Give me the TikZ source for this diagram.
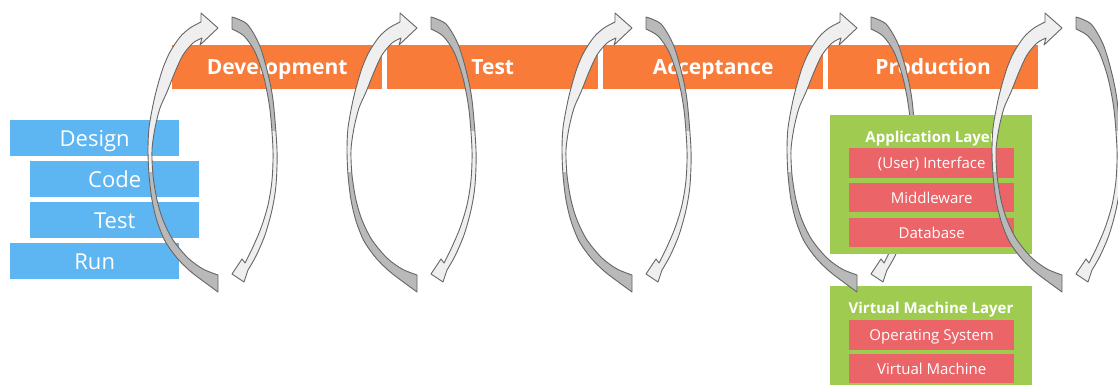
\documentclass[tikz,border=0pt]{standalone}
\usepackage{fontspec}
\setmainfont{Open Sans}
\definecolor{orng}{HTML}{F87B39}
\definecolor{blu}{HTML}{5DB5F2}
\definecolor{grn}{HTML}{9FCC50}
\definecolor{rd}{HTML}{EB6467}
\definecolor{rlight}{HTML}{EFEFEF}
\definecolor{rdark}{HTML}{B9B9B9}
\definecolor{redge}{HTML}{666666}
\newcommand\ribbonLeft[1]{%
\begin{scope}[xshift=#1]
\path[save path=\rbL] (201,22) -- (201,13) -- (218,28) -- (200,45) -- (202,38)
 -- plot[smooth] coordinates {(202,38) (193,43) (183,55) (175,72) (167,92) (160,108) (155,128) (152,150) (153,175) (157,200) (163,220) (173,240) (188,258) (203,269) (218,275)}
 -- (218,292)
 -- plot[smooth] coordinates {(218,292) (203,281) (190,271) (177,258) (165,241) (157,221) (152,200) (149,175) (148,150) (149,128) (153,105) (157,88) (163,68) (170,52) (180,37) (190,28) (201,22)}
 -- cycle;
\path[use path=\rbL, fill=rlight];
\begin{scope}
\clip (0,172) rectangle (400,300);
\path[use path=\rbL, fill=rdark];
\end{scope}
\path[use path=\rbL, draw=redge, line width=0.9pt, line join=round];
\end{scope}}
\newcommand\ribbonRight[1]{%
\begin{scope}[xshift=#1]
\path[save path=\rbR] (232,17)
 -- plot[smooth] coordinates {(232,17) (247,24) (259,44) (267,70) (273,100) (277,150) (276,185) (272,210) (265,235) (256,256) (248,270)}
 -- (244,282) -- (232,274) -- (242,259) -- (245,263)
 -- plot[smooth] coordinates {(245,263) (252,249) (261,228) (268,205) (272,180) (273,150) (270,110) (264,78) (255,52) (244,36) (232,29)}
 -- cycle;
\path[use path=\rbR, fill=rlight];
\begin{scope}
\clip (0,0) rectangle (400,130);
\path[use path=\rbR, fill=rdark];
\end{scope}
\path[use path=\rbR, draw=redge, line width=0.9pt, line join=round];
\end{scope}}
\begin{document}
\begin{tikzpicture}[x=1pt,y=-1pt,
  phase/.style={fill=orng, text=white, font=\bfseries\fontsize{21}{24}\selectfont, inner sep=0pt, text height=15pt, text depth=0pt, minimum height=44pt, anchor=north west},
  cycbox/.style={fill=blu, text=white, font=\fontsize{22}{25}\selectfont, inner sep=0pt, text height=15.7pt, text depth=0pt, minimum width=169pt, minimum height=36pt, anchor=north west},
  layer/.style={fill=grn, inner sep=0pt, minimum width=202pt, anchor=north west},
  layertitle/.style={text=white, font=\bfseries\fontsize{15}{18}\selectfont, inner sep=0pt, text height=10.7pt, text depth=0pt},
  comp/.style={fill=rd, text=white, font=\fontsize{15}{18}\selectfont, inner sep=0pt, text height=10.7pt, text depth=0pt, minimum width=165pt, anchor=north west}]
\useasboundingbox[fill=white] (0,0) rectangle (1118,385);
% phases
\node[phase, minimum width=210pt] (dev) at (172,45) {Development};
\node[phase, minimum width=211pt] (tst) at (387,45) {Test};
\node[phase, minimum width=220pt] (acc) at (603,45) {Acceptance};
\node[phase, minimum width=210pt] (prd) at (828,45) {Production};
% cycle boxes
\node[cycbox] (design) at (10,120) {Design};
\node[cycbox] (code) at (30,161) {Code};
\node[cycbox] (test) at (30,202) {Test};
\node[cycbox] (run) at (10,243) {Run};
% ribbons
\ribbonLeft{0pt}\ribbonRight{0pt}
\ribbonLeft{199pt}\ribbonRight{199pt}
\ribbonLeft{414pt}\ribbonRight{414pt}
\ribbonRight{639pt}
% layers
\node[layer, minimum height=139pt] (app) at (830,115) {};
\node[layertitle] (apptitle) at (931,137) {Application Layer};
\node[comp, minimum height=30pt] (ui) at (849,148) {(User) Interface};
\node[comp, minimum height=29pt] (mw) at (849,183) {Middleware};
\node[comp, minimum height=29pt] (db) at (849,218) {Database};
\node[layer, minimum height=100pt] (vm) at (830,286) {};
\node[layertitle] (vmtitle) at (931,308) {Virtual Machine Layer};
\node[comp, minimum height=30pt] (os) at (849,320) {Operating System};
\node[comp, minimum height=29pt] (vmach) at (849,354) {Virtual Machine};
\ribbonLeft{639pt}
\ribbonLeft{844pt}\ribbonRight{844pt}
\end{tikzpicture}
\end{document}
